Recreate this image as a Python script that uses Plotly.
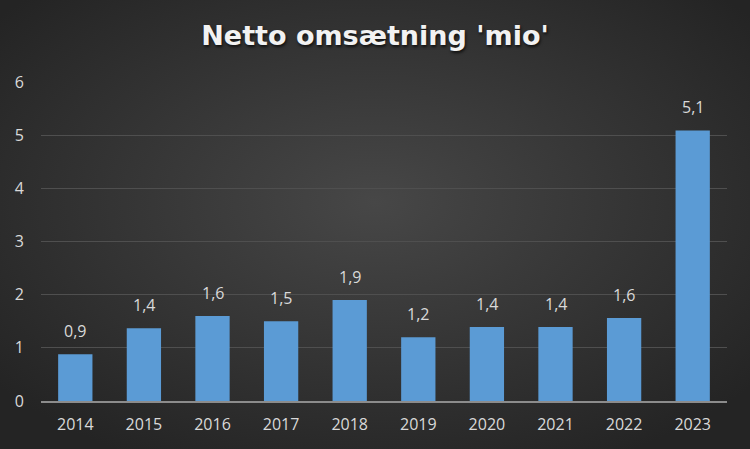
import base64
import plotly.graph_objects as go

years = ["2014", "2015", "2016", "2017", "2018", "2019", "2020", "2021", "2022", "2023"]
revenue = [0.88, 1.37, 1.60, 1.50, 1.90, 1.20, 1.39, 1.39, 1.56, 5.09]
y_ticks = [0, 1, 2, 3, 4, 5, 6]
title_text = "Netto omsætning 'mio'"

W, H = 750, 449
L, R, T, B = 41, 23, 82, 48

svg = f'''<svg xmlns="http://www.w3.org/2000/svg" width="{W}" height="{H}" viewBox="0 0 {W} {H}" preserveAspectRatio="none">
<defs><radialGradient id="g" cx="50%" cy="45%" r="65%" fx="50%" fy="45%">
<stop offset="0%" stop-color="#474747"/>
<stop offset="100%" stop-color="#242424"/>
</radialGradient></defs>
<rect width="{W}" height="{H}" fill="url(#g)"/>
</svg>'''
bg_uri = "data:image/svg+xml;base64," + base64.b64encode(svg.encode()).decode()

fig = go.Figure()
fig.add_trace(go.Bar(
    x=years, y=revenue,
    marker=dict(color="#5b9bd5", line=dict(width=0)),
    hoverinfo="x+y",
))

# data labels (x given as category index so the category axis places them on the bars)
for i, v in enumerate(revenue):
    fig.add_annotation(
        x=i, y=v, text=f"{v:.1f}".replace(".", ","),
        showarrow=False, yanchor="bottom", yshift=10,
        font=dict(family="Open Sans, sans-serif", size=16, color="#d9d9d9"),
    )

pw, ph = W - L - R, H - T - B
fig.update_layout(
    width=W, height=H,
    margin=dict(l=L, r=R, t=T, b=B),
    paper_bgcolor="#303030",
    plot_bgcolor="rgba(0,0,0,0)",
    separators=",.",
    bargap=0.5,
    showlegend=False,
    title=dict(
        text=title_text, x=0.5, xanchor="center", y=1 - 36 / H, yanchor="middle",
        font=dict(family="DejaVu Sans, sans-serif", size=27, color="#f2f2f2", weight="bold",
                  shadow="1px 2px 3px rgba(0,0,0,0.7)"),
    ),
    images=[dict(source=bg_uri, xref="paper", yref="paper",
                 x=-L / pw, y=1 + T / ph, sizex=W / pw, sizey=H / ph,
                 sizing="stretch", layer="below", xanchor="left", yanchor="top")],
    xaxis=dict(
        type="category", range=[-0.5, len(years) - 0.5],
        tickfont=dict(family="Open Sans, sans-serif", size=16, color="#d9d9d9"),
        showgrid=False, showline=True, linecolor="#8c8c8c", linewidth=2,
        ticks="", ticklabelstandoff=8,
    ),
    yaxis=dict(
        range=[0, 6], tickvals=y_ticks,
        tickfont=dict(family="Open Sans, sans-serif", size=16, color="#d9d9d9"),
        showgrid=True, gridcolor="#4f4f4f", gridwidth=1,
        zeroline=False, showline=False, ticks="", ticklabelstandoff=16,
    ),
)

fig.write_html(
    "out.html",
    config={"displayModeBar": False},
    post_script="document.body.style.margin='0';document.body.style.background='#242424';",
)
